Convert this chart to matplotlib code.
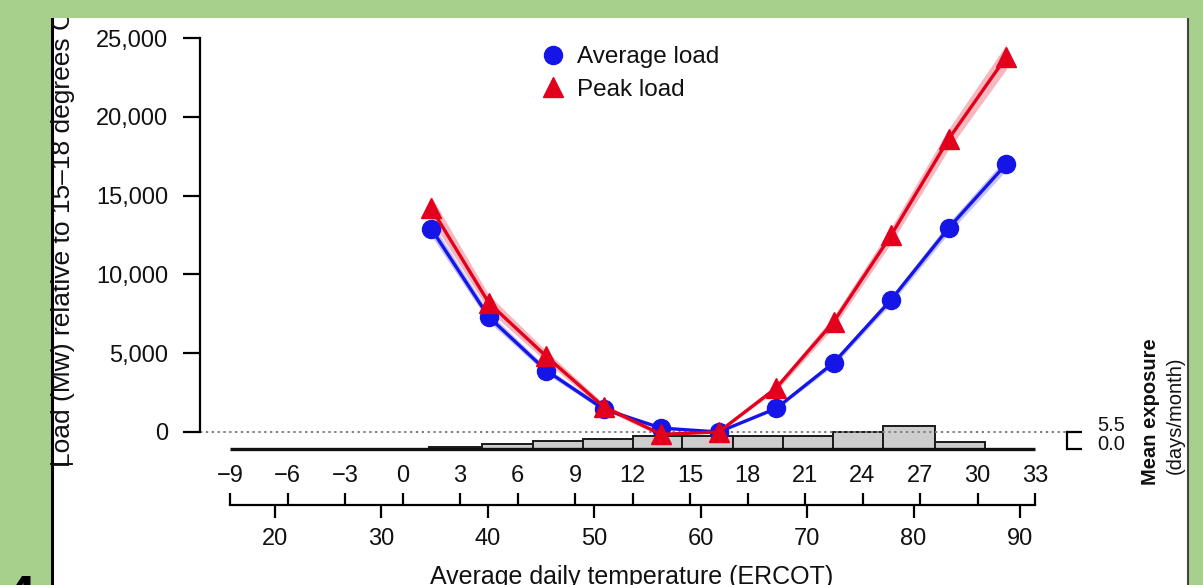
import matplotlib
matplotlib.use('Agg')
import matplotlib.pyplot as plt
from matplotlib.lines import Line2D
from matplotlib.patches import Rectangle
import numpy as np

plt.rcParams['font.family'] = ['Liberation Sans', 'DejaVu Sans']

# Datos
temp_c = [1.5, 4.5, 7.5, 10.5, 13.5, 16.5, 19.5, 22.5, 25.5, 28.5, 31.5]  # (C)
carga_media = [12900, 7300, 3900, 1450, 250, 0, 1500, 4400, 8400, 12950, 17000]  # (MW)
carga_pico = [14200, 8200, 4800, 1600, -150, 0, 2800, 7000, 12500, 18600, 23800]  # (MW)
banda_media = [450, 300, 200, 130, 80, 0, 100, 180, 250, 330, 400]  # semiancho IC
banda_pico = [750, 500, 350, 200, 120, 0, 200, 350, 500, 650, 800]

bordes_hist = [1.4, 4.15, 6.8, 9.4, 12.0, 14.6, 17.25, 19.85, 22.45, 25.05, 27.8, 30.4]  # (C)
dias_hist = [0.5, 1.5, 2.6, 3.2, 4.3, 4.3, 4.3, 4.3, 5.4, 7.5, 2.4]  # (dias/mes)

ticks_c = list(range(-9, 34, 3))
ticks_f = [20, 30, 40, 50, 60, 70, 80, 90]
ticks_y = [0, 5000, 10000, 15000, 20000, 25000]
ticks_dias = [0, 5.5]

AZUL = '#1515e8'
ROJO = '#e2001c'
VERDE = '#a8d08d'
TEXTO = '#111111'

W, H = 1203, 585


def fx(px):
    return px / W


def fy(py):
    return 1 - py / H


def c_a_f(c):
    return np.asarray(c) * 9 / 5 + 32


def f_a_c(f):
    return (np.asarray(f) - 32) * 5 / 9


def main():
    fig = plt.figure(figsize=(W / 100, H / 100), dpi=100, facecolor=VERDE)

    # fondo blanco y marco
    fig.add_artist(Rectangle((fx(53), fy(585)), fx(1187) - fx(53), fy(18) - fy(585),
                             transform=fig.transFigure, facecolor='white', edgecolor='none', zorder=-10))
    fig.add_artist(Line2D([fx(51.5)] * 2, [fy(18), fy(585)], transform=fig.transFigure, color='black', lw=2.2))
    fig.add_artist(Line2D([fx(51), fx(72)], [fy(464)] * 2, transform=fig.transFigure, color='black', lw=1.3))
    fig.add_artist(Line2D([fx(1188)] * 2, [fy(18), fy(585)], transform=fig.transFigure, color='#444444', lw=1.5))

    # escalas (pixeles de la imagen)
    px_c = (1035 - 230) / 42
    xlim = (-9 - 30 / px_c, -9 + 870 / px_c)
    x_corchete = xlim[0] + 867 / px_c
    x_etiq = xlim[0] + 897 / px_c
    px_carga = (432 - 38) / 25000
    ylim = ((432 - 460) / px_carga, (432 - 30) / px_carga)
    px_dia = 17 / 5.5
    ylim_h = (-(460 - 449) / px_dia, (449 - 30) / px_dia)

    rect = [fx(200), fy(460), fx(1100) - fx(200), fy(30) - fy(460)]

    # HISTOGRAMA
    ax_h = fig.add_axes(rect)
    ax_h.patch.set_visible(False)
    ax_h.bar(bordes_hist[:-1], dias_hist, width=np.diff(bordes_hist), align='edge',
             color='#cdcdcd', edgecolor='#1a1a1a', linewidth=1.4)
    ax_h.plot([-9, 33], [0, 0], color='#111111', lw=2.4, solid_capstyle='butt')
    ax_h.set_xlim(xlim)
    ax_h.set_ylim(ylim_h)
    ax_h.set_xticks([])
    for s in ['top', 'left', 'bottom']:
        ax_h.spines[s].set_visible(False)
    ax_h.spines['right'].set_position(('data', x_corchete))
    ax_h.spines['right'].set_bounds(0, 5.5)
    ax_h.spines['right'].set_linewidth(1.6)
    ax_h.yaxis.tick_right()
    ax_h.set_yticks(ticks_dias, [])
    ax_h.tick_params(axis='y', direction='out', length=11, width=1.6)
    # etiquetas del corchete, pegadas como en el original
    ax_h.text(x_etiq, ticks_dias[1] + 0.3, f'{ticks_dias[1]:.1f}', va='baseline', ha='left',
              fontsize=14.5, color=TEXTO)
    ax_h.text(x_etiq, ticks_dias[0] - 0.2, f'{ticks_dias[0]:.1f}', va='baseline', ha='left',
              fontsize=14.5, color=TEXTO)

    # CARGA
    ax = fig.add_axes(rect)
    ax.patch.set_visible(False)
    t = np.array(temp_c)
    m = np.array(carga_media)
    p = np.array(carga_pico)
    ax.fill_between(t, m - np.array(banda_media), m + np.array(banda_media), color=AZUL, alpha=0.25, lw=0)
    ax.fill_between(t, p - np.array(banda_pico), p + np.array(banda_pico), color=ROJO, alpha=0.28, lw=0)
    ax.plot([xlim[0], x_corchete], [0, 0], ls=(0, (1.2, 1.8)), color='#808080', lw=1.4, zorder=1.5)
    ax.plot(t, m, '-o', color=AZUL, ms=13, lw=2.4)
    ax.plot(t, p, '-^', color=ROJO, ms=15, lw=2.4)
    ax.set_xlim(xlim)
    ax.set_ylim(ylim)
    ax.set_xticks([])
    for s in ['top', 'right', 'bottom']:
        ax.spines[s].set_visible(False)
    ax.spines['left'].set_bounds(0, 25000)
    ax.spines['left'].set_linewidth(1.6)
    ax.set_yticks(ticks_y, [f'{v:,}' for v in ticks_y])
    ax.tick_params(axis='y', direction='out', length=12, width=1.6, pad=11,
                   labelsize=17, labelcolor=TEXTO)

    handles = [Line2D([], [], marker='o', ls='none', color=AZUL, ms=13),
               Line2D([], [], marker='^', ls='none', color=ROJO, ms=15)]
    ax.legend(handles, ['Average load', 'Peak load'], loc='upper left',
              bbox_to_anchor=(fx(541), fy(46)), bbox_transform=fig.transFigure,
              frameon=False, fontsize=17.5, handlelength=1.0, handletextpad=0.5,
              labelspacing=0.45, borderaxespad=0, borderpad=0, labelcolor=TEXTO)

    # EJES DE TEMPERATURA (C arriba, F abajo)
    ax_t = fig.add_axes([rect[0], fy(505), rect[2], 1e-4])
    ax_t.patch.set_visible(False)
    ax_t.set_xlim(xlim)
    ax_t.set_yticks([])
    for s in ['left', 'right', 'bottom']:
        ax_t.spines[s].set_visible(False)
    ax_t.spines['top'].set_bounds(-9, 33)
    ax_t.spines['top'].set_linewidth(1.6)
    ax_t.xaxis.tick_top()
    ax_t.set_xticks(ticks_c)
    ax_t.tick_params(axis='x', direction='out', length=9, width=1.6, pad=4,
                     labelsize=17, labelcolor=TEXTO)

    sec = ax_t.secondary_xaxis('bottom', functions=(c_a_f, f_a_c))
    sec.set_xticks(ticks_f)
    sec.tick_params(direction='out', length=9.5, width=1.6, pad=7, labelsize=17, labelcolor=TEXTO)
    sec.spines['bottom'].set_visible(False)

    # textos
    fig.text(fx(63), fy(467), 'Load (Mw) relative to 15–18 degrees C', rotation=90,
             ha='center', va='bottom', fontsize=19, color=TEXTO)
    fig.text(fx(632), fy(565), 'Average daily temperature (ERCOT)', ha='center', va='top',
             fontsize=18, color=TEXTO)
    fig.text(fx(1151), fy(412), 'Mean exposure', rotation=90, ha='center', va='center',
             fontsize=14.5, fontweight='bold', color=TEXTO)
    fig.text(fx(1175), fy(415), '(days/month)', rotation=90, ha='center', va='center',
             fontsize=14.5, color=TEXTO)

    # franja verde superior (recorta la etiqueta del eje y)
    fig.add_artist(Rectangle((0, fy(18)), 1, 1 - fy(18), transform=fig.transFigure,
                             facecolor=VERDE, edgecolor='none', zorder=20))
    fig.text(fx(20), fy(574), '4', fontsize=40, fontweight='bold', ha='center', va='top', zorder=30)

    fig.savefig('out.png', dpi=100, facecolor=VERDE)


if __name__ == "__main__":
    main()
